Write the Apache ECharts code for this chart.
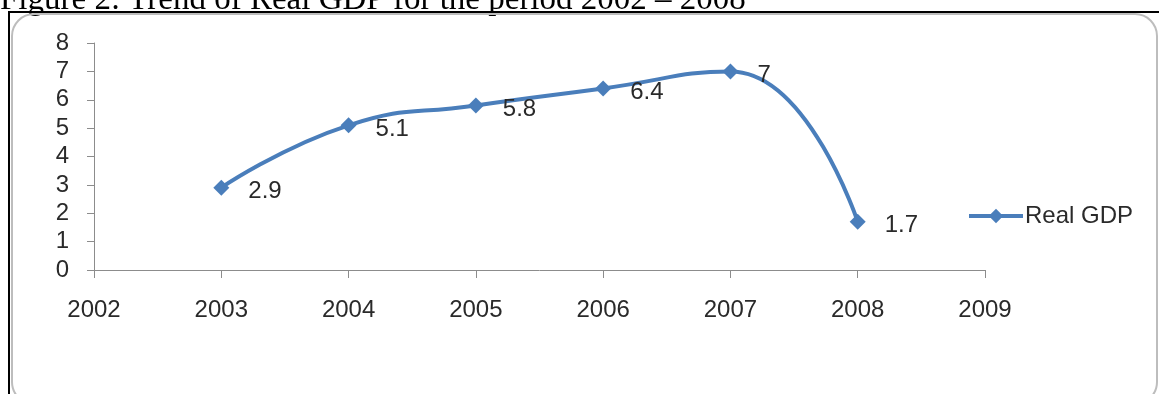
<!DOCTYPE html>
<html>
<head>
<meta charset="utf-8">
<script src="https://cdn.jsdelivr.net/npm/echarts@6/dist/echarts.min.js"></script>
<style>
  html, body { margin: 0; padding: 0; background: #fff; }
  #chart { width: 1159px; height: 394px; }
</style>
</head>
<body>
<div id="chart"></div>
<script>
// data
var years = [2003, 2004, 2005, 2006, 2007, 2008];
var realGdp = [2.9, 5.1, 5.8, 6.4, 7, 1.7];
var seriesName = 'Real GDP';
var titleText = 'Figure 2: Trend of Real GDP for the period 2002 \u2013 2008';

var chart = echarts.init(document.getElementById('chart'));

var points = years.map(function (y, i) { return [y, realGdp[i]]; });
var axisGrey = '#8c8c8c';
var txtFont = 'Liberation Sans';
var txtColor = '#2a2a2a';

var option = {
    backgroundColor: '#fff',
    animation: false,
    grid: { left: 94, right: 174, top: 43, bottom: 124 },
    xAxis: {
        type: 'value',
        min: 2002,
        max: 2009,
        interval: 1,
        splitLine: { show: false },
        axisLine: { lineStyle: { color: axisGrey, width: 1 } },
        axisTick: { show: true, length: 8, lineStyle: { color: axisGrey } },
        axisLabel: {
            color: txtColor, fontSize: 24, fontFamily: txtFont, margin: 28,
            formatter: function (v) { return String(v); }
        }
    },
    yAxis: {
        type: 'value',
        min: 0,
        max: 8,
        interval: 1,
        splitLine: { show: false },
        axisLine: { show: true, lineStyle: { color: axisGrey, width: 1 } },
        axisTick: { show: true, length: 7, lineStyle: { color: axisGrey } },
        axisLabel: { color: txtColor, fontSize: 24, fontFamily: txtFont, margin: 25 }
    },
    legend: {
        left: 962,
        top: 199,
        itemWidth: 54,
        itemHeight: 18,
        lineStyle: { width: 4 },
        textStyle: { color: txtColor, fontSize: 24, fontFamily: txtFont, padding: [5, 0, 0, -3] },
        data: [seriesName]
    },
    series: [{
        name: seriesName,
        type: 'line',
        data: points,
        smooth: 0.5,
        symbol: 'diamond',
        symbolSize: 16,
        lineStyle: { color: '#4a7ebb', width: 4 },
        itemStyle: { color: '#4a7ebb' },
        label: {
            show: true,
            position: 'right',
            distance: 19,
            offset: [0, 4],
            color: txtColor,
            fontSize: 24,
            fontFamily: txtFont,
            formatter: function (p) { return String(p.value[1]); }
        }
    }],
    graphic: [
        {
            type: 'text',
            left: 0,
            top: -16,
            style: { text: titleText, font: '33px "Liberation Serif"', fill: '#000' }
        },
        {
            type: 'rect',
            shape: { x: 12, y: 14, width: 1145, height: 390, r: 22 },
            style: { fill: 'none', stroke: '#bdbdbd', lineWidth: 2 },
            silent: true
        },
        {
            type: 'line',
            shape: { x1: 8, y1: 12, x2: 1159, y2: 12 },
            style: { stroke: '#000', lineWidth: 2 }
        },
        {
            type: 'line',
            shape: { x1: 9, y1: 11, x2: 9, y2: 394 },
            style: { stroke: '#000', lineWidth: 2 }
        }
    ]
};

chart.setOption(option);
window.addEventListener('resize', function () { chart.resize(); });
</script>
</body>
</html>
